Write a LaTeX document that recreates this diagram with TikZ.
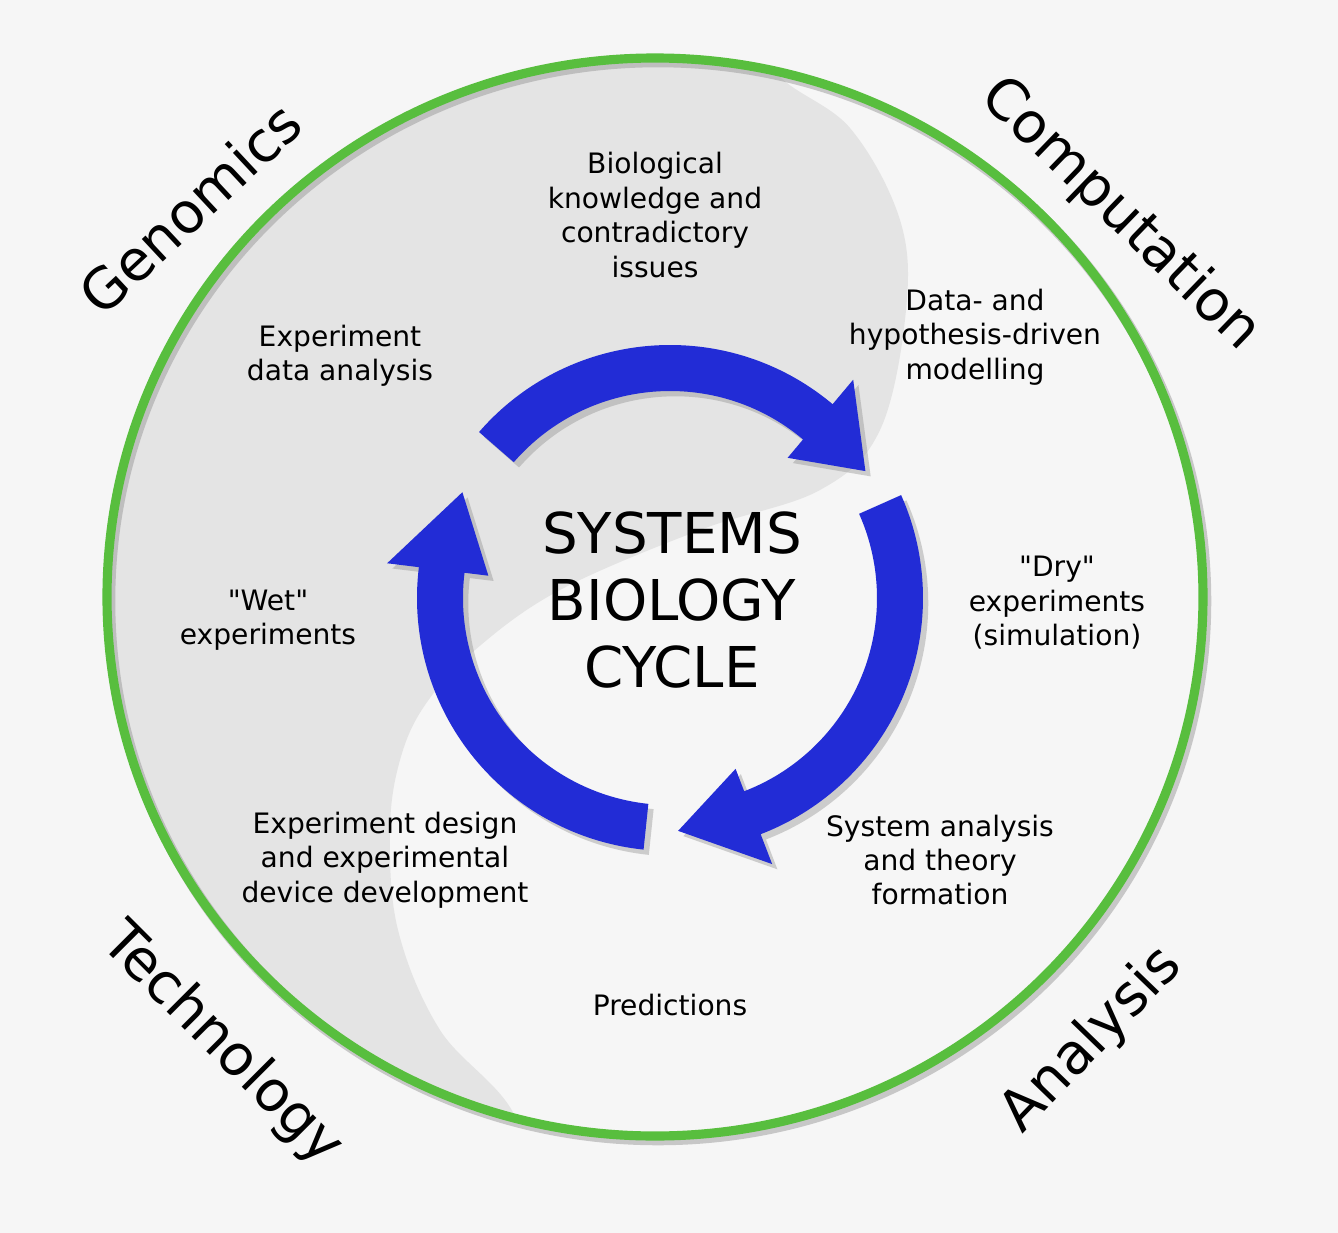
\documentclass[tikz,border=0pt]{standalone}
\usepackage{fontspec}
\setmainfont{DejaVu Sans}
\usetikzlibrary{shadows}
\definecolor{bgwhite}{RGB}{246,246,246}
\definecolor{bggray}{RGB}{228,228,228}
\definecolor{cycleblue}{RGB}{34,44,214}
\definecolor{ringgreen}{RGB}{88,190,62}
\begin{document}
\begin{tikzpicture}[x=0.01cm, y=-0.01cm, line join=round,
		inner/.style={align=center, font=\fontsize{8}{9.8}\selectfont, inner sep=0pt},
		outer/.style={font=\fontsize{16}{19}\selectfont, inner sep=0pt}]
	\def\cyclearrow#1#2#3{
		\fill[cycleblue, drop shadow={opacity=0.35, shadow xshift=1.5pt, shadow yshift=-1.5pt}]
			(#1:253) arc[start angle=#1, end angle=#2, radius=253] -- (#2:285) -- (#3:233)
			-- (#2:183) -- (#2:207) arc[start angle=#2, end angle=#1, radius=207] -- cycle;
	}
	\fill[bgwhite] (0,0) rectangle (1338,1233);
	\useasboundingbox (0,0) rectangle (1338,1233);
	\begin{scope}
		\clip (655,597) ellipse [x radius=548, y radius=539];
		\fill[bggray] plot[smooth, tension=0.6] coordinates {(760,0) (775,71) (850,128) (900,220) (906,310) (880,430) (820,490) (700,530) (560,590) (475,650) (425,705) (400,760) (390,830) (398,930) (440,1030) (515,1116) (540,1233)} -- (0,1233) -- (0,0) -- cycle;
	\end{scope}
	\draw[black!40, line width=3pt, opacity=0.5] (658,601) ellipse [x radius=548, y radius=539];
	\draw[ringgreen, line width=2.6pt] (655,597) ellipse [x radius=548, y radius=539];
	\begin{scope}[shift={(670,598)}]
		\foreach \ta/\tb/\tc in {96/187/207, 221/310/327, 336/429/448} {
			\cyclearrow{\ta}{\tb}{\tc}
		}
	\end{scope}
	\node[align=center, font=\fontsize{16}{19}\selectfont] (title) at (672,600) {SYSTEMS\\BIOLOGY\\CYCLE};
	\node[inner] (know) at (655,215) {Biological\\knowledge and\\contradictory\\issues};
	\node[inner] (expdata) at (340,356) {Experiment\\data analysis};
	\node[inner] (model) at (975,337) {Data- and\\hypothesis-driven\\modelling};
	\node[inner] (wet) at (268,620) {\textquotedbl Wet\textquotedbl\\experiments};
	\node[inner] (dry) at (1057,603) {\textquotedbl Dry\textquotedbl\\experiments\\(simulation)};
	\node[inner] (design) at (385,860) {Experiment design\\and experimental\\device development};
	\node[inner] (theory) at (940,860) {System analysis\\and theory\\formation};
	\node[inner] (pred) at (670,1005) {Predictions};
	\node[outer, rotate=43] (genomics) at (190,208) {Genomics};
	\node[outer, rotate=-44] (computation) at (1120,215) {Computation};
	\node[outer, rotate=-45] (technology) at (222,1045) {Technology};
	\node[outer, rotate=46] (analysis) at (1092,1040) {Analysis};
\end{tikzpicture}
\end{document}
